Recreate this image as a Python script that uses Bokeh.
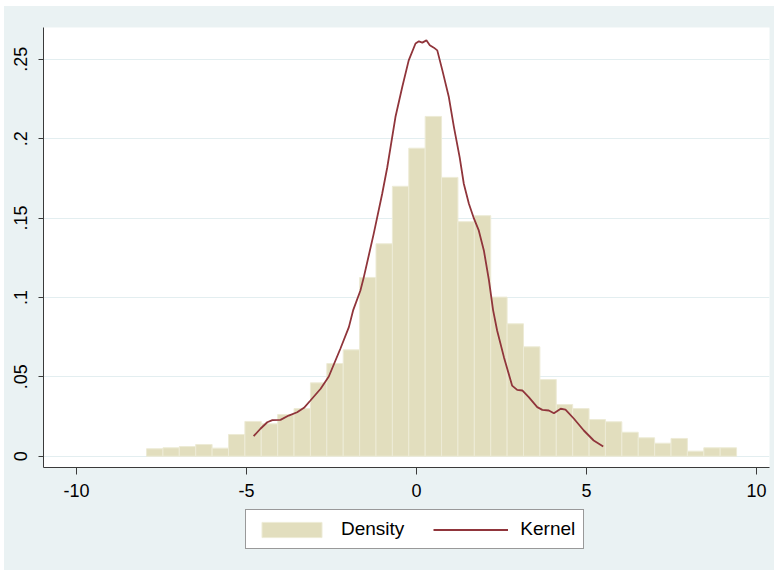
import numpy as np
from bokeh.plotting import figure
from bokeh.layouts import column
from bokeh.models import (FixedTicker, CustomJSTickFormatter, Legend, LegendItem,
                          Range1d)
from bokeh.embed import file_html
from bokeh.resources import INLINE

# ---- data ----
bin_start = -7.94
bin_width = 0.482
density = [0.0047, 0.0053, 0.0061, 0.0074, 0.0051, 0.0137, 0.0219, 0.0204, 0.0263,
           0.0300, 0.0462, 0.0584, 0.0670, 0.1126, 0.1338, 0.1700, 0.1940, 0.2140,
           0.1756, 0.1477, 0.1515, 0.1002, 0.0834, 0.0689, 0.0483, 0.0326, 0.0300,
           0.0231, 0.0217, 0.0151, 0.0116, 0.0082, 0.0112, 0.0032, 0.0053, 0.0053]

kernel_x = [-4.79, -4.59, -4.39, -4.24, -4.00, -3.76, -3.51, -3.31, -3.12, -2.82,
            -2.58, -2.24, -1.99, -1.86, -1.65, -1.55, -1.26, -1.01, -0.86, -0.62,
            -0.42, -0.23, -0.03, 0.07, 0.17, 0.29, 0.39, 0.51, 0.61, 0.76,
            0.95, 1.10, 1.27, 1.39, 1.54, 1.69, 1.83, 1.98, 2.13, 2.25,
            2.37, 2.57, 2.81, 2.96, 3.11, 3.30, 3.55, 3.70, 3.89, 4.04,
            4.24, 4.38, 4.63, 4.92, 5.21, 5.49]
kernel_y = [0.0126, 0.0173, 0.0214, 0.0227, 0.0229, 0.0256, 0.0277, 0.0305, 0.0351, 0.0425,
            0.0502, 0.0677, 0.0813, 0.0922, 0.1044, 0.1128, 0.1400, 0.1653, 0.1820, 0.2136,
            0.2325, 0.2493, 0.2599, 0.2613, 0.2605, 0.2619, 0.2588, 0.2573, 0.2556, 0.2430,
            0.2262, 0.2073, 0.1880, 0.1716, 0.1590, 0.1496, 0.1422, 0.1296, 0.1107, 0.0922,
            0.0792, 0.0624, 0.0445, 0.0418, 0.0414, 0.0372, 0.0309, 0.0292, 0.0288, 0.0271,
            0.0299, 0.0294, 0.0236, 0.0162, 0.0099, 0.0061]

x_ticks = [-10, -5, 0, 5, 10]
y_ticks = [0, 0.05, 0.1, 0.15, 0.2, 0.25]
legend_labels = ["Density", "Kernel"]

centers = bin_start + bin_width * (np.arange(len(density)) + 0.5)

FONT = "Liberation Sans"
BG = "#EAF2F3"
BAR_FILL = "#E2DEBE"
BAR_LINE = "#EDEBD6"
KERN = "#90353B"

p = figure(frame_width=726, frame_height=440, output_backend="svg", toolbar_location=None,
           x_range=Range1d(-10.97, 10.38), y_range=Range1d(-0.0071, 0.270),
           min_border_left=39, min_border_right=5, min_border_top=21,
           min_border_bottom=38)
p.border_fill_color = BG
p.background_fill_color = "white"
p.outline_line_color = None

p.vbar(x=centers, width=bin_width, top=density, bottom=0,
       fill_color=BAR_FILL, line_color=BAR_LINE, line_width=1)
p.line(kernel_x, kernel_y, line_color=KERN, line_width=1.8)

for ax in (p.xaxis[0], p.yaxis[0]):
    ax.axis_line_color = "#3A3A3A"
    ax.major_tick_line_color = "#3A3A3A"
    ax.major_tick_in = 0
    ax.minor_tick_line_color = None
    ax.major_label_text_font = FONT
    ax.major_label_text_font_size = "18px"
    ax.major_label_text_color = "black"

p.xaxis.ticker = FixedTicker(ticks=x_ticks)
p.xaxis.major_tick_out = 7
p.xaxis.major_label_standoff = 9
p.xaxis.formatter = CustomJSTickFormatter(code="return tick.toString();")
p.yaxis.ticker = FixedTicker(ticks=y_ticks)
p.yaxis.major_tick_out = 5
p.yaxis.major_label_orientation = "vertical"
p.yaxis.major_label_standoff = 11
p.yaxis.formatter = CustomJSTickFormatter(code="""
    if (Math.abs(tick) < 1e-9) return '0';
    let s = tick.toFixed(2);
    s = s.replace(/0+$/, '');
    s = s.replace(/^0/, '');
    return s;
""")

p.xgrid.grid_line_color = None
p.ygrid.grid_line_color = "#E3EEF0"
p.ygrid.grid_line_width = 1
p.ygrid.ticker = FixedTicker(ticks=y_ticks)

# ---- legend strip (separate small figure below the plot) ----
q = figure(frame_width=770, frame_height=65, output_backend="svg", toolbar_location=None,
           x_range=Range1d(0, 1), y_range=Range1d(0, 1),
           x_axis_type=None, y_axis_type=None, min_border=0)
q.border_fill_color = BG
q.background_fill_color = BG
q.outline_line_color = None
# legend proxies, placed outside the visible range
lb = q.vbar(x=[-5], width=0.1, top=[-5], bottom=[-6],
            fill_color=BAR_FILL, line_color=BAR_LINE, line_width=1)
ll = q.line(x=[-5, -4], y=[-5, -5], line_color=KERN, line_width=1.8)

legend = Legend(items=[LegendItem(label=legend_labels[0], renderers=[lb]),
                       LegendItem(label=legend_labels[1], renderers=[ll])],
                orientation="horizontal", location=(241, 21))
legend.label_text_font = FONT
legend.label_text_font_size = "19px"
legend.label_text_color = "black"
legend.glyph_width = 75
legend.glyph_height = 19
legend.label_standoff = 12
legend.spacing = 29
legend.padding = 8
legend.margin = 0
legend.border_line_color = "#333333"
legend.border_line_width = 1
legend.background_fill_color = "white"
legend.background_fill_alpha = 1
q.add_layout(legend, "center")

layout = column(p, q, spacing=0, margin=(6, 0, 0, 4),
                styles={"background-color": BG})
open("out.html", "w").write(file_html(layout, INLINE))
